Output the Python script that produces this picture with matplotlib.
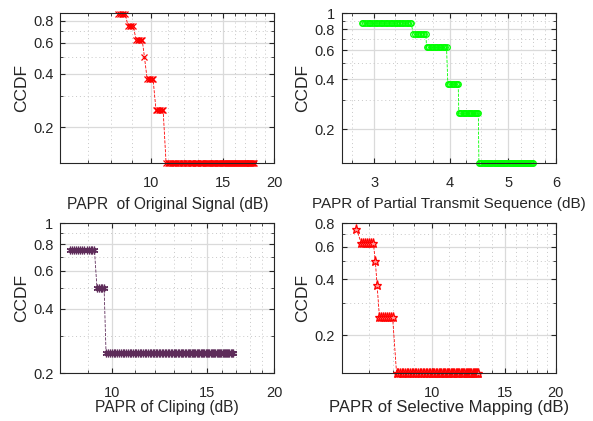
import numpy as np
import matplotlib
matplotlib.use('Agg')
import matplotlib.pyplot as plt
from matplotlib.ticker import FixedLocator, FixedFormatter, NullFormatter

plt.rcParams['font.family'] = ['Liberation Sans', 'DejaVu Sans']

# CCDF steps: level, x where the run of markers starts / ends
orig_level = [0.875, 0.75, 0.625, 0.5, 0.375, 0.25, 0.125]
orig_start = [8.31, 8.78, 9.19, 9.63, 9.78, 10.28, 10.88]
orig_end   = [8.64, 9.04, 9.51, 9.63, 10.11, 10.70, 17.85]

pts_level = [0.875, 0.75, 0.625, 0.375, 0.25, 0.125]
pts_start = [2.855, 3.48, 3.66, 3.97, 4.14, 4.47]
pts_end   = [3.45, 3.65, 3.95, 4.13, 4.46, 5.50]

clip_level = [0.75, 0.5, 0.25]
clip_start = [8.33, 9.36, 9.73]
clip_end   = [9.26, 9.65, 16.74]

slm_level = [0.75, 0.625, 0.5, 0.375, 0.25, 0.125]
slm_start = [6.51, 6.70, 7.25, 7.32, 7.42, 8.17]
slm_end   = [6.51, 7.17, 7.25, 7.32, 7.99, 12.93]

fig = plt.figure(figsize=(5.93, 4.21), dpi=100)

W = 214 / 593
H = 150 / 421
pos = [(60.3 / 593, 1 - 163.3 / 421),
       (342 / 593, 1 - 163.3 / 421),
       (60.3 / 593, 1 - 373.3 / 421),
       (341.7 / 593, 1 - 373.3 / 421)]


def steps(level, start, end, dx):
    xs, ys = [], []
    for lv, a, b in zip(level, start, end):
        n = max(int(round((b - a) / dx)), 0) + 1
        xs.extend(np.linspace(a, b, n))
        ys.extend([lv] * n)
    return xs, ys


def style(ax, xlim, ylim, xmaj, xmin, ymaj, ymin, xlabel, xfs, lpad):
    ax.set_xscale('log')
    ax.set_yscale('log')
    ax.set_xlim(*xlim)
    ax.set_ylim(*ylim)
    ax.xaxis.set_major_locator(FixedLocator(xmaj))
    ax.xaxis.set_major_formatter(FixedFormatter([('%g' % v) for v in xmaj]))
    ax.xaxis.set_minor_locator(FixedLocator(xmin))
    ax.xaxis.set_minor_formatter(NullFormatter())
    ax.yaxis.set_major_locator(FixedLocator(ymaj))
    ax.yaxis.set_major_formatter(FixedFormatter([('%g' % v) for v in ymaj]))
    ax.yaxis.set_minor_locator(FixedLocator(ymin))
    ax.yaxis.set_minor_formatter(NullFormatter())
    ax.grid(True, which='major', color='#dadada', lw=0.9, ls='-')
    ax.grid(True, which='minor', color='#c8c8c8', lw=0.7, ls=(0, (1, 3)))
    ax.set_axisbelow(True)
    ax.tick_params(which='both', direction='in', top=True, right=True,
                   labelsize=10.5, colors='#262626', labelcolor='#262626')
    ax.tick_params(which='major', length=3.5, width=0.8)
    ax.tick_params(which='minor', length=2, width=0.6)
    ax.tick_params(axis='x', which='major', pad=9.5)
    ax.tick_params(axis='y', which='major', pad=5)
    for s in ax.spines.values():
        s.set_color('#262626')
        s.set_linewidth(0.8)
    ax.set_xlabel(xlabel, fontsize=xfs, color='#262626', labelpad=lpad)
    ax.set_ylabel('CCDF', fontsize=12.5, color='#262626', labelpad=3)


# Original signal
ax1 = fig.add_axes([pos[0][0], pos[0][1], W, H])
x, y = steps(orig_level, orig_start, orig_end, 0.09)
ax1.plot(x, y, color='red', ls='--', lw=0.6, marker='x', ms=4.5, mew=0.9,
         clip_on=False)
style(ax1, (6, 20), (0.125, 0.88), [10, 15, 20],
      [7, 8, 9, 11, 12, 13, 14, 16, 17, 18, 19],
      [0.2, 0.4, 0.6, 0.8], [0.3, 0.5, 0.7],
      'PAPR  of Original Signal (dB)', 11.2, 5)

# Partial transmit sequence
ax2 = fig.add_axes([pos[1][0], pos[1][1], W, H])
x, y = steps(pts_level, pts_start, pts_end, 0.02)
ax2.plot(x, y, color='#00ff00', ls='--', lw=0.6, marker='o', ms=4, mew=0.9,
         mfc='none', clip_on=False)
style(ax2, (2.65, 6), (0.125, 1), [3, 4, 5, 6],
      [2.75, 3.25, 3.5, 3.75, 4.25, 4.5, 4.75, 5.25, 5.5, 5.75],
      [0.2, 0.4, 0.6, 0.8, 1], [0.3, 0.5, 0.7, 0.9],
      'PAPR of Partial Transmit Sequence (dB)', 11, 5)

# Clipping
ax3 = fig.add_axes([pos[2][0], pos[2][1], W, H])
x, y = steps(clip_level, clip_start, clip_end, 0.08)
ax3.plot(x, y, color='#5e2c5a', ls='--', lw=0.6, marker=(6, 2, 0), ms=5.5,
         mew=0.9, clip_on=False)
style(ax3, (8, 20), (0.2, 1), [10, 15, 20],
      [9, 11, 12, 13, 14, 16, 17, 18, 19],
      [0.2, 0.4, 0.6, 0.8, 1], [0.3, 0.5, 0.7, 0.9],
      'PAPR of Cliping (dB)', 11.2, 0)

# Selective mapping
ax4 = fig.add_axes([pos[3][0], pos[3][1], W, H])
x, y = steps(slm_level, slm_start, slm_end, 0.08)
ax4.plot(x, y, color='red', ls='--', lw=0.6, marker='*', ms=6.5, mew=0.9,
         mfc='#ff9999', clip_on=False)
style(ax4, (6, 20), (0.125, 0.8), [10, 15, 20],
      [7, 8, 9, 11, 12, 13, 14, 16, 17, 18, 19],
      [0.2, 0.4, 0.6, 0.8], [0.3, 0.5, 0.7],
      'PAPR of Selective Mapping (dB)', 12, 0)

fig.savefig('out.png', dpi=100)
